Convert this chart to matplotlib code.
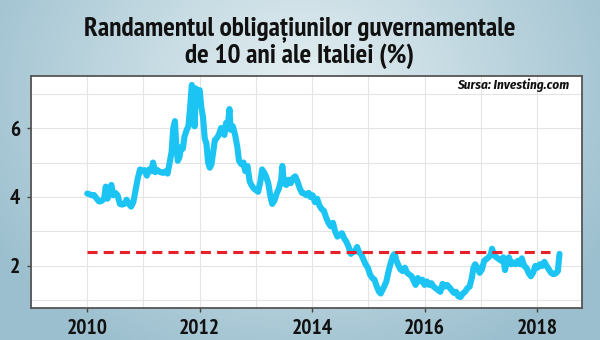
import numpy as np
import matplotlib
matplotlib.use("Agg")
import matplotlib.pyplot as plt
from matplotlib import font_manager

# ---------------- data ----------------
years = [
    2010.00, 2010.04, 2010.08, 2010.12, 2010.17, 2010.21, 2010.25, 2010.30, 2010.33, 2010.36,
    2010.40, 2010.43, 2010.46, 2010.50, 2010.54, 2010.58, 2010.62, 2010.66, 2010.70, 2010.74,
    2010.78, 2010.82, 2010.86, 2010.90, 2010.94, 2010.98, 2011.02, 2011.06, 2011.10, 2011.14,
    2011.17, 2011.21, 2011.25, 2011.30, 2011.35, 2011.40, 2011.43, 2011.46, 2011.50, 2011.53,
    2011.56, 2011.58, 2011.61, 2011.64, 2011.67, 2011.70, 2011.73, 2011.77, 2011.80, 2011.83,
    2011.86, 2011.89, 2011.91, 2011.93, 2011.97, 2012.00, 2012.03, 2012.06, 2012.09, 2012.12,
    2012.15, 2012.18, 2012.21, 2012.24, 2012.27, 2012.30, 2012.34, 2012.38, 2012.41, 2012.44,
    2012.47, 2012.50, 2012.53, 2012.55, 2012.59, 2012.63, 2012.67, 2012.70, 2012.74, 2012.78,
    2012.81, 2012.85, 2012.89, 2012.92, 2012.96, 2013.00, 2013.04, 2013.08, 2013.11, 2013.15,
    2013.18, 2013.22, 2013.26, 2013.29, 2013.33, 2013.37, 2013.41, 2013.45, 2013.47, 2013.50,
    2013.54, 2013.58, 2013.62, 2013.66, 2013.70, 2013.74, 2013.78, 2013.82, 2013.86, 2013.90,
    2013.94, 2013.97, 2014.01, 2014.05, 2014.09, 2014.13, 2014.17, 2014.21, 2014.25, 2014.29,
    2014.33, 2014.37, 2014.41, 2014.45, 2014.49, 2014.53, 2014.57, 2014.61, 2014.65, 2014.69,
    2014.72, 2014.76, 2014.80, 2014.83, 2014.87, 2014.91, 2014.95, 2014.99, 2015.03, 2015.07,
    2015.11, 2015.15, 2015.19, 2015.22, 2015.25, 2015.28, 2015.32, 2015.36, 2015.40, 2015.44,
    2015.47, 2015.50, 2015.54, 2015.57, 2015.61, 2015.65, 2015.69, 2015.73, 2015.77, 2015.81,
    2015.84, 2015.88, 2015.92, 2015.96, 2016.00, 2016.04, 2016.08, 2016.12, 2016.16, 2016.20,
    2016.24, 2016.28, 2016.32, 2016.36, 2016.40, 2016.44, 2016.48, 2016.52, 2016.56, 2016.60,
    2016.64, 2016.68, 2016.72, 2016.76, 2016.80, 2016.84, 2016.87, 2016.90, 2016.94, 2016.98,
    2017.02, 2017.06, 2017.10, 2017.14, 2017.18, 2017.20, 2017.24, 2017.28, 2017.32, 2017.36,
    2017.40, 2017.43, 2017.46, 2017.50, 2017.54, 2017.58, 2017.62, 2017.66, 2017.70, 2017.73,
    2017.77, 2017.81, 2017.85, 2017.89, 2017.93, 2017.97, 2018.01, 2018.05, 2018.09, 2018.13,
    2018.17, 2018.21, 2018.25, 2018.29, 2018.33, 2018.37, 2018.40,
]
yields = [
    4.10, 4.08, 4.05, 4.06, 3.95, 3.87, 3.88, 3.95, 4.30, 3.95,
    4.25, 4.35, 4.05, 4.12, 4.05, 3.80, 3.78, 3.80, 3.92, 3.80,
    3.72, 3.85, 4.20, 4.55, 4.80, 4.75, 4.78, 4.62, 4.80, 4.75,
    5.00, 4.72, 4.78, 4.72, 4.70, 4.75, 4.68, 4.95, 5.30, 6.00,
    6.20, 5.60, 5.05, 5.15, 5.45, 5.40, 5.75, 5.95, 6.05, 6.60,
    7.25, 7.05, 6.05, 7.15, 7.00, 7.10, 6.60, 6.30, 5.70, 5.55,
    5.00, 4.85, 4.95, 5.30, 5.65, 5.70, 5.80, 6.00, 5.90, 5.80,
    6.15, 6.05, 6.55, 5.95, 6.05, 5.80, 5.45, 5.05, 4.95, 5.00,
    4.75, 4.90, 4.45, 4.35, 4.25, 4.20, 4.15, 4.45, 4.80, 4.70,
    4.60, 4.40, 4.00, 3.80, 3.90, 4.10, 4.25, 4.50, 4.90, 4.40,
    4.35, 4.50, 4.40, 4.55, 4.60, 4.45, 4.25, 4.12, 4.10, 4.05,
    4.12, 4.00, 4.05, 3.85, 3.95, 3.75, 3.65, 3.60, 3.40, 3.25,
    3.15, 3.25, 3.00, 2.85, 2.90, 2.95, 2.80, 2.70, 2.55, 2.35,
    2.40, 2.42, 2.55, 2.40, 2.35, 2.20, 2.05, 1.95, 1.75, 1.65,
    1.60, 1.40, 1.25, 1.20, 1.30, 1.40, 1.55, 1.85, 2.10, 2.30,
    2.35, 2.15, 2.00, 1.90, 1.85, 1.95, 1.80, 1.75, 1.70, 1.55,
    1.45, 1.65, 1.55, 1.60, 1.45, 1.55, 1.45, 1.50, 1.40, 1.35,
    1.30, 1.25, 1.48, 1.40, 1.45, 1.38, 1.30, 1.22, 1.25, 1.12,
    1.10, 1.20, 1.25, 1.35, 1.40, 1.65, 1.95, 2.05, 1.95, 1.80,
    1.90, 2.15, 2.20, 2.25, 2.35, 2.50, 2.30, 2.25, 2.20, 2.15,
    2.25, 1.88, 2.10, 2.25, 2.05, 2.10, 2.05, 2.15, 2.05, 2.22,
    2.00, 1.95, 1.80, 1.70, 1.80, 2.00, 1.95, 2.05, 2.00, 2.12,
    2.00, 1.90, 1.80, 1.76, 1.78, 1.85, 2.35,
]
ref_level = 2.4
ref_span = [2010.0, 2018.23]
x_ticks = [2010, 2012, 2014, 2016, 2018]
y_ticks = [2, 4, 6]
title_l1 = "Randamentul obligațiunilor guvernamentale"
title_l2 = "de 10 ani ale Italiei (%)"
source = "Sursa: Investing.com"

# ---------------- fonts ----------------
avail = {f.name for f in font_manager.fontManager.ttflist}
prefs = ["PT Sans Narrow", "Fira Sans Condensed", "Roboto Condensed",
         "Barlow Condensed", "Archivo Narrow", "Liberation Sans Narrow"]
cond = next((p for p in prefs if p in avail), "DejaVu Sans")
fam = [cond, "DejaVu Sans"]
it_prefs = ["Fira Sans Condensed", "Roboto Condensed", "Barlow Condensed",
            "Archivo Narrow", cond]
cond_it = next((p for p in it_prefs if p in avail), cond)
fam_it = [cond_it, "DejaVu Sans"]

W, H = 600, 340
fig = plt.figure(figsize=(W / 100, H / 100), dpi=100)

# background gradient
bg = fig.add_axes([0, 0, 1, 1], zorder=-10)
yy, xx = np.mgrid[0:H, 0:W]
d = np.sqrt(((xx - 300) / 360.0) ** 2 + ((yy - 90) / 300.0) ** 2)
d = np.clip(d, 0, 1)
c0 = np.array([0.90, 0.94, 0.95])
c1 = np.array([0.61, 0.75, 0.81])
img = c0[None, None, :] * (1 - d[..., None]) + c1[None, None, :] * d[..., None]
bg.imshow(img, aspect="auto", extent=[0, 1, 0, 1], origin="upper")
bg.set_axis_off()

ax = fig.add_axes([31 / W, 1 - 308 / H, (582 - 31) / W, (308 - 76) / H])
ax.set_facecolor("white")
ax.plot(years, yields, color="#1cc4f4", lw=4.4, solid_joinstyle="round",
        solid_capstyle="round", zorder=3)
ax.plot(ref_span, [ref_level, ref_level], color="#e8202a", lw=2.2,
        dashes=(3.3, 2.0), zorder=4)

ax.set_xlim(2009.60, 2018.80)
ax.set_ylim(0.78, 7.51)
ax.set_xticks(x_ticks)
ax.set_yticks(y_ticks)
ax.set_xticks(range(2009, 2019), minor=True)
ax.set_yticks(range(1, 8), minor=True)
ax.grid(True, which="both", color="#e4e4e4", lw=0.8, zorder=0)
ax.tick_params(which="minor", length=0)
ax.tick_params(which="major", length=3, width=1, color="#444444",
               labelsize=15.5, labelcolor="#111111")
ax.tick_params(axis="x", pad=5)
ax.tick_params(axis="y", pad=5)
for lab in ax.get_xticklabels() + ax.get_yticklabels():
    lab.set_family(fam)
    lab.set_fontweight("bold")
for s in ax.spines.values():
    s.set_color("#555555")
    s.set_linewidth(1.3)

t1 = fig.text(0.5, 1 - 35 / H, title_l1, ha="center", va="baseline", family=fam,
              fontweight="bold", fontsize=18, color="#111111")
t2 = fig.text(0.5, 1 - 63 / H, title_l2, ha="center", va="baseline", family=fam,
              fontweight="bold", fontsize=18, color="#111111")
ts = fig.text(569 / W, 1 - 89 / H, source, ha="right", va="baseline", family=fam_it,
              fontweight="bold", fontstyle="italic", fontsize=10, color="#111111")

# fit title / source sizes to the reference widths (pixels)
fig.canvas.draw()
r = fig.canvas.get_renderer()


def fit(t, target):
    w = t.get_window_extent(r).width
    if w > 0:
        t.set_fontsize(t.get_fontsize() * target / w)


fit(t1, 432)
t2.set_fontsize(t1.get_fontsize())
fit(ts, 112)

fig.savefig("out.png", dpi=100)
